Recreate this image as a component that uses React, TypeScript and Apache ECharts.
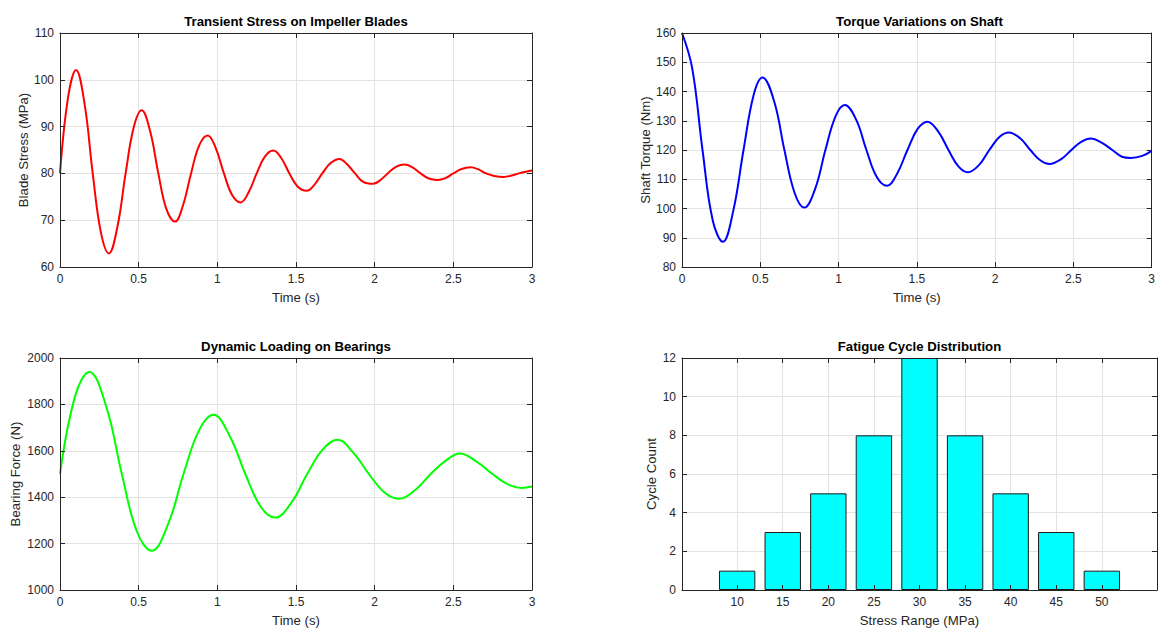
import React, { useEffect, useRef } from "react";
import * as echarts from "echarts";

// ---- Data ----
// Transient Stress on Impeller Blades
const stressTime = [0, 0.052, 0.102, 0.156, 0.208, 0.26, 0.311, 0.365, 0.417, 0.469, 0.519, 0.573, 0.625, 0.677, 0.731, 0.781, 0.833, 0.885, 0.939, 0.99, 1.042, 1.094, 1.148, 1.198, 1.25, 1.302, 1.356, 1.406, 1.458, 1.51, 1.568, 1.615, 1.667, 1.72, 1.776, 1.823, 1.875, 1.927, 1.99, 2.03, 2.083, 2.135, 2.19, 2.24, 2.292, 2.344, 2.4, 2.45, 2.5, 2.552, 2.61, 2.656, 2.708, 2.76, 2.82, 2.865, 2.917, 2.969, 3.0];
const stressValues = [80, 96.4, 102.1, 94.9, 80, 67.4, 62.9, 68.6, 80, 89.9, 93.5, 89.0, 80, 72.3, 69.7, 73.1, 80, 86.0, 88.1, 85.4, 80, 75.4, 73.8, 75.9, 80, 83.6, 84.9, 83.3, 80, 77.2, 76.3, 77.5, 80, 82.2, 83.1, 82.0, 80, 78.2, 77.8, 78.4, 80, 81.4, 81.9, 81.3, 80, 78.9, 78.6, 79.0, 80, 80.95, 81.3, 80.9, 80, 79.45, 79.25, 79.5, 80, 80.4, 80.6];

// Torque Variations on Shaft
const torqueTime = [0, 0.065, 0.131, 0.196, 0.261, 0.327, 0.393, 0.458, 0.514, 0.589, 0.654, 0.72, 0.781, 0.851, 0.916, 0.982, 1.04, 1.113, 1.178, 1.244, 1.31, 1.374, 1.44, 1.505, 1.567, 1.636, 1.702, 1.767, 1.826, 1.898, 1.963, 2.029, 2.087, 2.16, 2.225, 2.29, 2.346, 2.42, 2.487, 2.55, 2.613, 2.68, 2.749, 2.81, 2.866, 2.94, 3.0];
const torqueValues = [160, 148, 120, 96, 88.6, 99.1, 120, 138.9, 144.8, 136.6, 120, 105.2, 100.3, 106.8, 120, 131.7, 135.4, 130.3, 120, 110.8, 107.8, 111.9, 120, 127.2, 129.7, 126.4, 120, 114.3, 112.4, 114.9, 120, 124.5, 126.0, 124.0, 120, 116.4, 115.2, 116.8, 120, 122.8, 123.9, 122.5, 120, 117.7, 117.3, 118.0, 119.7];

// Dynamic Loading on Bearings
const bearingTime = [0, 0.098, 0.186, 0.295, 0.393, 0.49, 0.583, 0.687, 0.785, 0.883, 0.975, 1.08, 1.178, 1.276, 1.367, 1.472, 1.571, 1.669, 1.763, 1.865, 1.963, 2.061, 2.15, 2.258, 2.356, 2.454, 2.542, 2.65, 2.749, 2.847, 2.934, 3.0];
const bearingValues = [1500, 1840, 1940, 1788, 1500, 1250, 1169, 1284, 1500, 1687, 1755, 1662, 1500, 1359, 1312, 1378, 1500, 1605, 1648, 1591, 1500, 1421, 1393, 1431, 1500, 1559, 1588, 1552, 1500, 1455, 1440, 1446];

// Fatigue Cycle Distribution
const stressRanges = [10, 15, 20, 25, 30, 35, 40, 45, 50];
const cycleCounts = [1, 3, 5, 8, 12, 8, 5, 3, 1];

const titles = [
  "Transient Stress on Impeller Blades",
  "Torque Variations on Shaft",
  "Dynamic Loading on Bearings",
  "Fatigue Cycle Distribution",
];
const xNames = ["Time (s)", "Time (s)", "Time (s)", "Stress Range (MPa)"];
const yNames = ["Blade Stress (MPa)", "Shaft Torque (Nm)", "Bearing Force (N)", "Cycle Count"];

const AX = "#262626";
const GRID = "#e2e2e2";
const FONT = '"Liberation Sans", Arial, Helvetica, sans-serif';

type AxisCfg = {
  min: number;
  max: number;
  interval?: number;
  custom?: number[];
};

function zip(t: number[], v: number[]) {
  return t.map((x, i) => [x, v[i]]);
}

function makeX(grid: number, cfg: AxisCfg, name: string, nameGap: number) {
  const common: any = {
    type: "value",
    gridIndex: grid,
    min: cfg.min,
    max: cfg.max,
    axisLine: { show: true, onZero: false, lineStyle: { color: AX, width: 1 } },
  };
  if (cfg.interval !== undefined) common.interval = cfg.interval;
  const tick: any = { show: true, inside: true, length: 5, lineStyle: { color: AX, width: 1 } };
  if (cfg.custom) tick.customValues = cfg.custom;
  const label: any = {
    show: true,
    color: AX,
    fontSize: 12,
    fontFamily: FONT,
    margin: 6,
    formatter: (v: number) => String(v),
  };
  if (cfg.custom) label.customValues = cfg.custom;
  return [
    {
      ...common,
      position: "bottom",
      z: 3,
      axisTick: tick,
      axisLabel: label,
      splitLine: { show: false },
      name,
      nameLocation: "middle",
      nameGap,
      nameTextStyle: { color: AX, fontSize: 13.2, fontFamily: FONT },
    },
    {
      ...common,
      position: "top",
      z: 0,
      axisTick: tick,
      axisLabel: { show: false, ...(cfg.custom ? { customValues: cfg.custom } : {}) },
      splitLine: { show: true, lineStyle: { color: GRID, width: 1 } },
    },
  ];
}

function makeY(grid: number, cfg: AxisCfg, name: string, nameGap: number) {
  const common: any = {
    type: "value",
    gridIndex: grid,
    min: cfg.min,
    max: cfg.max,
    interval: cfg.interval,
    axisLine: { show: true, onZero: false, lineStyle: { color: AX, width: 1 } },
    axisTick: { show: true, inside: true, length: 5, lineStyle: { color: AX, width: 1 } },
  };
  return [
    {
      ...common,
      position: "left",
      z: 3,
      axisLabel: {
        show: true,
        color: AX,
        fontSize: 12,
        fontFamily: FONT,
        margin: 6,
        formatter: (v: number) => String(v),
      },
      splitLine: { show: false },
      name,
      nameLocation: "middle",
      nameGap,
      nameTextStyle: { color: AX, fontSize: 13.2, fontFamily: FONT },
    },
    {
      ...common,
      position: "right",
      z: 0,
      axisLabel: { show: false },
      splitLine: { show: true, lineStyle: { color: GRID, width: 1 } },
    },
  ];
}

export default function App() {
  const ref = useRef<HTMLDivElement>(null);

  useEffect(() => {
    if (!ref.current) return;
    const chart = echarts.init(ref.current, undefined, { renderer: "svg" });

    const grids = [
      { left: 60, top: 33, width: 472, height: 234 },
      { left: 682, top: 33, width: 475, height: 234 },
      { left: 60, top: 358, width: 472, height: 232 },
      { left: 682, top: 358, width: 475, height: 232 },
    ];
    const titleCenters = [
      [296, 15],
      [919.5, 15],
      [296, 340],
      [919.5, 340],
    ];

    const xAxes = [
      ...makeX(0, { min: 0, max: 3, interval: 0.5 }, xNames[0], 24),
      ...makeX(1, { min: 0, max: 3, interval: 0.5 }, xNames[1], 24),
      ...makeX(2, { min: 0, max: 3, interval: 0.5 }, xNames[2], 24),
      ...makeX(3, { min: 3.95, max: 56.05, custom: stressRanges }, xNames[3], 23.5),
    ];
    const yAxes = [
      ...makeY(0, { min: 60, max: 110, interval: 10 }, yNames[0], 30.4),
      ...makeY(1, { min: 80, max: 160, interval: 10 }, yNames[1], 30.4),
      ...makeY(2, { min: 1000, max: 2000, interval: 200 }, yNames[2], 38.4),
      ...makeY(3, { min: 0, max: 12, interval: 2 }, yNames[3], 24),
    ];

    const lineSeries = (idx: number, data: number[][], color: string) => ({
      type: "line",
      xAxisIndex: idx * 2,
      yAxisIndex: idx * 2,
      data,
      smooth: 0.4,
      showSymbol: false,
      symbol: "none",
      lineStyle: { color, width: 2 },
      z: 2,
    });

    chart.setOption({
      animation: false,
      backgroundColor: "#ffffff",
      textStyle: { fontFamily: FONT },
      title: titles.map((t, i) => ({
        text: t,
        left: titleCenters[i][0],
        top: titleCenters[i][1],
        textAlign: "center",
        padding: 0,
        textStyle: { color: "#000", fontSize: 13.2, fontWeight: "bold", fontFamily: FONT },
      })),
      grid: grids,
      xAxis: xAxes,
      yAxis: yAxes,
      series: [
        lineSeries(0, zip(stressTime, stressValues), "#ff0000"),
        lineSeries(1, zip(torqueTime, torqueValues), "#0000ff"),
        lineSeries(2, zip(bearingTime, bearingValues), "#00ff00"),
        {
          type: "bar",
          xAxisIndex: 6,
          yAxisIndex: 6,
          data: zip(stressRanges, cycleCounts),
          barWidth: 36.4,
          itemStyle: { color: "#00ffff", borderColor: "#1a1a1a", borderWidth: 1 },
          z: 2,
        },
      ],
    });

    return () => chart.dispose();
  }, []);

  return (
    <div
      ref={ref}
      style={{ position: "absolute", left: 0, top: 0, width: 1158, height: 628, background: "#fff" }}
    />
  );
}
